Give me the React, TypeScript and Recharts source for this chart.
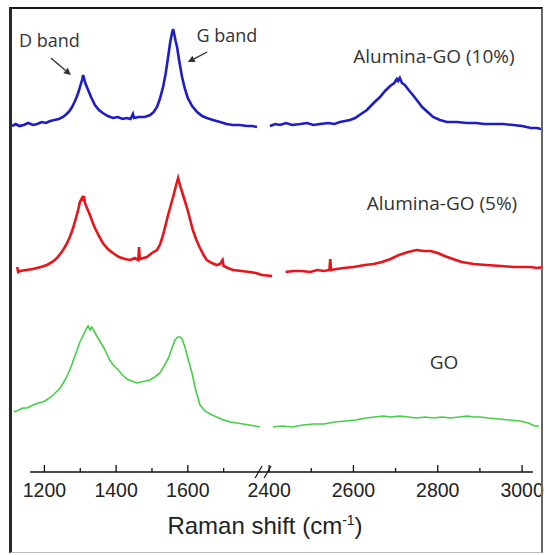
import { LineChart, Line, XAxis, YAxis, ReferenceLine, ReferenceDot } from "recharts";

type Pt = [number, number];

// Raman shift (cm-1), intensity (a.u., stacked)
const go10Low: Pt[] = [
  [1110, 346], [1120, 348], [1130, 346], [1142, 347], [1155, 349], [1168, 347], [1180, 348], [1192, 350],
  [1204, 349], [1216, 351], [1228, 352], [1240, 353], [1252, 355], [1262, 358], [1270, 361], [1277, 365],
  [1284, 370], [1290, 375], [1295, 380], [1300, 386], [1305, 392], [1308, 397], [1311, 393], [1315, 388],
  [1322, 382], [1330, 375], [1341, 367], [1352, 362], [1363, 359], [1377, 356], [1391, 354], [1405, 355],
  [1418, 353], [1430, 354], [1440, 353], [1447, 358], [1450, 354], [1462, 355], [1480, 355], [1495, 357],
  [1505, 360], [1514, 365], [1522, 373], [1531, 385], [1538, 398], [1545, 415], [1551, 430], [1556, 439],
  [1559, 443], [1562, 438], [1566, 431], [1570, 425], [1577, 409], [1584, 395], [1592, 383], [1600, 374],
  [1612, 366], [1626, 360], [1640, 356], [1653, 354], [1670, 352], [1690, 350], [1708, 348], [1726, 347],
  [1745, 347], [1765, 346], [1780, 346], [1793, 345],
];
const go10High: Pt[] = [
  [2402, 346], [2415, 348], [2426, 347], [2440, 349], [2455, 347], [2474, 348], [2490, 349], [2505, 347],
  [2521, 348], [2540, 349], [2555, 348], [2568, 350], [2580, 351], [2592, 352], [2604, 354], [2618, 358],
  [2632, 362], [2648, 369], [2663, 375], [2675, 381], [2687, 386], [2697, 389], [2703, 393], [2706, 391],
  [2710, 394], [2715, 389], [2722, 387], [2731, 382], [2741, 377], [2752, 371], [2763, 365], [2776, 360],
  [2789, 355], [2805, 352], [2822, 350], [2845, 350], [2869, 349], [2890, 349], [2910, 348], [2931, 348],
  [2955, 348], [2979, 347], [3000, 346], [3021, 344], [3035, 344], [3045, 343],
];
const go5Low: Pt[] = [
  [1124, 205], [1127, 200], [1132, 201], [1150, 202], [1168, 203], [1190, 205], [1207, 207], [1222, 210],
  [1235, 214], [1244, 218], [1252, 222], [1262, 228], [1271, 235], [1280, 244], [1288, 254], [1294, 262],
  [1299, 270], [1305, 274], [1308, 271], [1310, 276], [1313, 269], [1320, 263], [1327, 257], [1334, 250],
  [1341, 244], [1352, 236], [1363, 229], [1377, 223], [1391, 219], [1408, 215], [1425, 213], [1440, 212],
  [1452, 214], [1462, 212], [1464, 225], [1466, 213], [1476, 214], [1486, 215], [1500, 219], [1514, 222],
  [1523, 228], [1531, 237], [1538, 247], [1545, 257], [1552, 266], [1559, 275], [1566, 285], [1573, 294],
  [1578, 287], [1584, 280], [1591, 272], [1598, 264], [1606, 253], [1614, 242], [1624, 232], [1634, 224],
  [1644, 217], [1653, 212], [1667, 209], [1681, 207], [1690, 208], [1697, 212], [1700, 206], [1712, 204],
  [1726, 202], [1750, 201], [1773, 200], [1790, 199], [1807, 197], [1835, 196],
];
const go5High: Pt[] = [
  [2439, 200], [2458, 201], [2478, 201], [2497, 200], [2515, 202], [2530, 201], [2543, 202], [2545, 213],
  [2547, 202], [2560, 203], [2577, 204], [2600, 205], [2627, 207], [2648, 208], [2668, 210], [2688, 213],
  [2708, 217], [2730, 220], [2750, 222], [2767, 221], [2783, 221], [2800, 219], [2816, 216], [2836, 213],
  [2857, 210], [2885, 208], [2915, 207], [2950, 206], [2981, 205], [3000, 205], [3021, 205], [3035, 204],
  [3050, 205],
];
const goLow: Pt[] = [
  [1115, 60], [1128, 62], [1140, 64], [1152, 64], [1169, 67], [1182, 69], [1195, 70], [1206, 72],
  [1218, 75], [1230, 79], [1244, 84], [1256, 91], [1266, 98], [1276, 107], [1288, 119], [1299, 130],
  [1310, 138], [1318, 144], [1322, 146], [1327, 142], [1332, 145], [1340, 140], [1346, 136], [1356, 130],
  [1366, 124], [1374, 118], [1382, 112], [1392, 107], [1406, 102], [1418, 97], [1430, 93], [1444, 91],
  [1457, 89], [1470, 90], [1482, 91], [1494, 92], [1508, 95], [1522, 99], [1534, 106], [1546, 114],
  [1556, 124], [1564, 132], [1572, 135], [1578, 135], [1584, 133], [1592, 125], [1600, 114], [1611, 100],
  [1622, 82], [1634, 67], [1648, 61], [1662, 58], [1680, 55], [1700, 52], [1718, 50], [1737, 49],
  [1755, 48], [1772, 47], [1788, 46], [1801, 45],
];
const goHigh: Pt[] = [
  [2409, 45], [2430, 46], [2455, 45], [2480, 47], [2505, 48], [2530, 48], [2555, 50], [2580, 51],
  [2605, 52], [2630, 54], [2650, 55], [2670, 56], [2690, 55], [2710, 56], [2730, 55], [2750, 54],
  [2770, 55], [2790, 54], [2810, 55], [2830, 54], [2850, 55], [2870, 56], [2885, 55], [2900, 55],
  [2920, 54], [2945, 53], [2970, 52], [2995, 51], [3015, 49], [3030, 46], [3040, 46],
];

const lowTicks = [1200, 1300, 1400, 1500, 1600, 1700];
const highTicks = [2400, 2500, 2600, 2700, 2800, 2900, 3000];

const lowNotes = [
  { text: "D band", x: 1214, y: 431 },
  { text: "G band", x: 1709, y: 436 },
];
const highNotes = [
  { text: "Alumina-GO (10%)", x: 2791, y: 416 },
  { text: "Alumina-GO (5%)", x: 2810, y: 269 },
  { text: "GO", x: 2815, y: 110 },
];
const arrows = [
  { from: { x: 1218, y: 414 }, to: { x: 1274, y: 397 } },
  { from: { x: 1654, y: 420 }, to: { x: 1600, y: 410 } },
];

const BLUE = "#1d1dc6";
const RED = "#e8141c";
const GREEN = "#46cf46";
const rows = (pts: Pt[]) => pts.map(([x, v]) => ({ x, v }));
const margin = { top: 20, right: 0, bottom: 43, left: 0 };

function AxisTick(props: any) {
  const { x, y, payload } = props;
  const v = payload.value as number;
  const major = v % 200 === 0;
  return (
    <g>
      <line x1={x} x2={x} y1={y} y2={y - (major ? 7 : 4)} stroke="#111" strokeWidth={1.3} />
      {v === 2400 && (
        <g stroke="#111" strokeWidth={1.2}>
          <line x1={x - 14} y1={y + 6} x2={x - 7} y2={y - 6} />
          <line x1={x - 5} y1={y + 6} x2={x + 2} y2={y - 6} />
        </g>
      )}
      {major && (
        <text x={x} y={y + 25} textAnchor="middle" fontSize={19.5} fontFamily="'Liberation Sans', Arial, sans-serif" fill="#222">
          {v}
        </text>
      )}
    </g>
  );
}

function Arrow(p: any) {
  const { x1, y1, x2, y2 } = p;
  const a = Math.atan2(y2 - y1, x2 - x1);
  const bx = x2 - 7 * Math.cos(a);
  const by = y2 - 7 * Math.sin(a);
  const w = 3.5;
  const pts = `${x2},${y2} ${bx - w * Math.sin(a)},${by + w * Math.cos(a)} ${bx + w * Math.sin(a)},${by - w * Math.cos(a)}`;
  return (
    <g>
      <line x1={x1} y1={y1} x2={bx} y2={by} stroke="#333" strokeWidth={1.4} />
      <polygon points={pts} fill="#333" />
    </g>
  );
}

function note(n: { text: string; x: number; y: number }, size: number) {
  return (
    <ReferenceDot
      key={n.text}
      x={n.x}
      y={n.y}
      r={0}
      fill="none"
      stroke="none"
      label={{ value: n.text, position: "center", fontSize: size, fill: "#333", fontFamily: "'Open Sans', sans-serif" }}
    />
  );
}

export default function App() {
  return (
    <div style={{ position: "absolute", left: 0, top: 0, width: 544, height: 555, background: "#fff" }}>
      <div style={{ position: "absolute", left: 10, top: 0 }}>
        <LineChart width={266} height={555} margin={margin}>
          <XAxis type="number" dataKey="x" domain={[1104, 1846]} ticks={lowTicks} axisLine={false} tickLine={false}
            tickSize={0} tickMargin={0} height={40} tick={AxisTick} interval={0} />
          <YAxis type="number" domain={[0, 452]} hide />
          <ReferenceLine segment={[{ x: 1160, y: 0 }, { x: 1807, y: 0 }]} stroke="#111" strokeWidth={1.5} />
          <Line data={rows(go10Low)} dataKey="v" stroke={BLUE} strokeWidth={2.6} dot={false} isAnimationActive={false} />
          <Line data={rows(go5Low)} dataKey="v" stroke={RED} strokeWidth={2.6} dot={false} isAnimationActive={false} />
          <Line data={rows(goLow)} dataKey="v" stroke={GREEN} strokeWidth={1.6} dot={false} isAnimationActive={false} />
          {arrows.map((a, i) => (
            <ReferenceLine key={i} segment={[a.from, a.to]} shape={Arrow} />
          ))}
          {lowNotes.map((n) => note(n, 18))}
        </LineChart>
      </div>
      <div style={{ position: "absolute", left: 240, top: 0 }}>
        <LineChart width={304} height={555} margin={margin}>
          <XAxis type="number" dataKey="x" domain={[2331, 3052]} ticks={highTicks} axisLine={false} tickLine={false}
            tickSize={0} tickMargin={0} height={40} tick={AxisTick} interval={0} />
          <YAxis type="number" domain={[0, 452]} hide />
          <ReferenceLine segment={[{ x: 2383, y: 0 }, { x: 3026, y: 0 }]} stroke="#111" strokeWidth={1.5} />
          <Line data={rows(go10High)} dataKey="v" stroke={BLUE} strokeWidth={2.6} dot={false} isAnimationActive={false} />
          <Line data={rows(go5High)} dataKey="v" stroke={RED} strokeWidth={2.6} dot={false} isAnimationActive={false} />
          <Line data={rows(goHigh)} dataKey="v" stroke={GREEN} strokeWidth={1.6} dot={false} isAnimationActive={false} />
          {highNotes.map((n) => note(n, 19))}
        </LineChart>
      </div>
      <svg width={544} height={555} style={{ position: "absolute", left: 0, top: 0, pointerEvents: "none" }}>
        <text x={265} y={534} textAnchor="middle" fontSize={24} fontFamily="'Liberation Sans', Arial, sans-serif" fill="#222">
          Raman shift (cm<tspan dy={-9} fontSize={14}>-1</tspan><tspan dy={9}>)</tspan>
        </text>
      </svg>
      <div
        style={{
          position: "absolute", left: 9, top: 7, width: 534, height: 546, boxSizing: "border-box",
          borderLeft: "3px solid #2a2a2a", borderTop: "2px solid #1a1a1a", borderRight: "2px solid #666",
          borderBottom: "1px solid #bbb", pointerEvents: "none",
        }}
      />
    </div>
  );
}
